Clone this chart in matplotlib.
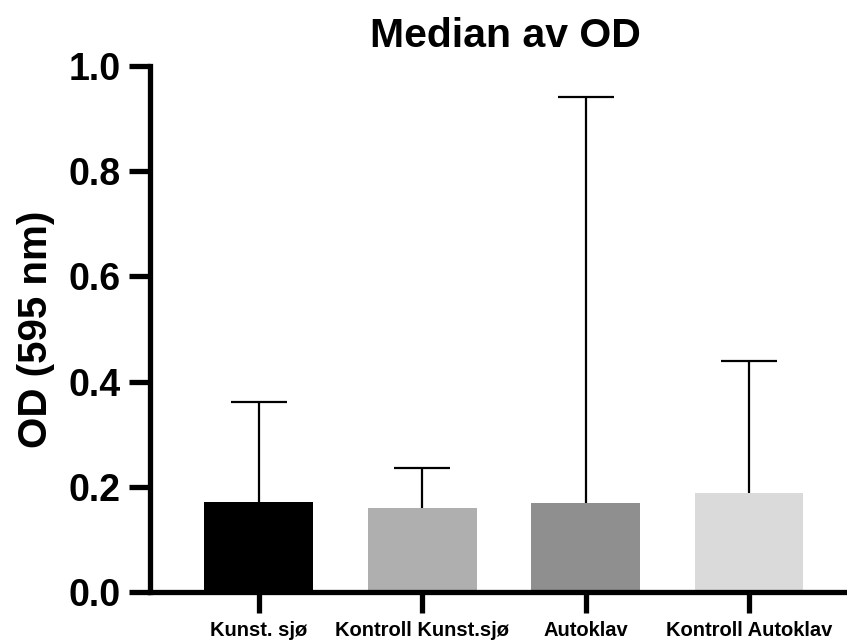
import matplotlib
matplotlib.use('Agg')
import matplotlib.pyplot as plt
import numpy as np

plt.rcParams['font.family'] = ['Liberation Sans', 'DejaVu Sans']
plt.rcParams['font.weight'] = 'bold'

# data
groups = ['Kunst. sjø', 'Kontroll Kunst.sjø', 'Autoklav', 'Kontroll Autoklav']
medians = [0.171, 0.160, 0.169, 0.188]
upper_err = [0.190, 0.076, 0.772, 0.251]   # only the upper part is drawn
bar_colors = ['#000000', '#afafaf', '#8f8f8f', '#dadada']

fig = plt.figure(figsize=(8.47, 6.42), dpi=100)
ax = fig.add_axes([150/847, 1 - 592/642, 697/847, (592 - 66)/642])

x = np.arange(len(groups))
ax.bar(x, medians, width=0.667, color=bar_colors, zorder=2)
eb = ax.errorbar(x, medians, yerr=[np.zeros(len(x)), upper_err], fmt='none',
                 ecolor='black', elinewidth=1.6, capsize=20, capthick=1.6, zorder=1)
# hide the lower caps (they would sit on the bar tops)
eb[1][0].set_visible(False)

ax.set_xlim(-0.667, 3.6)
ax.set_ylim(0, 1.0)
ax.set_yticks([0.0, 0.2, 0.4, 0.6, 0.8, 1.0])
ax.set_yticklabels(['0.0', '0.2', '0.4', '0.6', '0.8', '1.0'], fontsize=27, fontweight='bold')
ax.set_xticks(x)
ax.set_xticklabels(groups, fontsize=14.5, fontweight='bold')

for side in ['top', 'right']:
    ax.spines[side].set_visible(False)
for side in ['left', 'bottom']:
    ax.spines[side].set_linewidth(3.8)
    ax.spines[side].set_capstyle('projecting')
ax.tick_params(axis='both', width=3.8, length=15)
ax.tick_params(axis='y', pad=6)
ax.tick_params(axis='x', pad=6)

ax.set_ylabel('OD (595 nm)', fontsize=29, fontweight='bold', labelpad=10)
ax.set_title('Median av OD', fontsize=29.5, fontweight='bold', pad=14, x=0.51)

plt.savefig('out.png', dpi=100)
